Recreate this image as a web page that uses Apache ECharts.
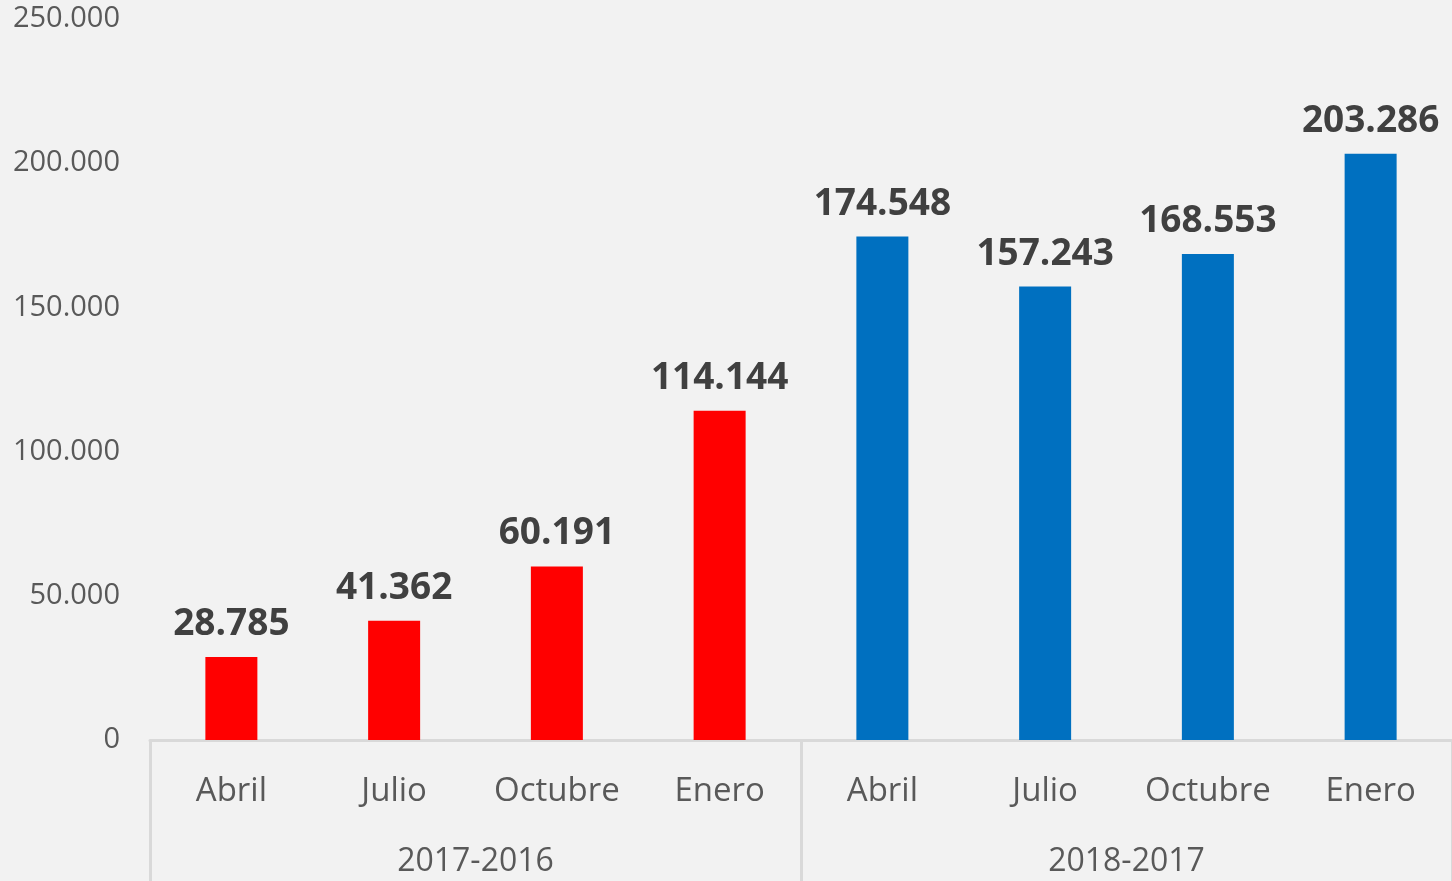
<!DOCTYPE html>
<html>
<head>
<meta charset="utf-8">
<script src="https://cdn.jsdelivr.net/npm/echarts@6/dist/echarts.min.js"></script>
<style>
html,body{margin:0;padding:0;background:#f2f2f2;}
#c{width:1452px;height:881px;}
</style>
</head>
<body>
<div id="c"></div>
<script>
const months = ['Abril','Julio','Octubre','Enero','Abril','Julio','Octubre','Enero'];
const groups = ['2017-2016','2018-2017'];
const values = [28785, 41362, 60191, 114144, 174548, 157243, 168553, 203286];
const groupOfBar = [0,0,0,0,1,1,1,1];
const groupColors = ['#ff0000','#0070c0'];
const yTicks = [0, 50000, 100000, 150000, 200000, 250000];

function fmt(v){ return String(v).replace(/\B(?=(\d{3})+(?!\d))/g,'.'); }

const chart = echarts.init(document.getElementById('c'));
chart.setOption({
  backgroundColor:'#f2f2f2',
  animation:false,
  grid:{left:150,right:0,top:19,bottom:141},
  xAxis:[{
    type:'category', data:months,
    axisLine:{show:true,lineStyle:{color:'#d9d9d9',width:3}},
    axisTick:{show:false},
    axisLabel:{color:'#595959',fontFamily:'Open Sans',fontSize:33,margin:35,interval:0}
  },{
    type:'category', data:groups, position:'bottom',
    axisLine:{show:false},
    axisTick:{show:true,length:141,inside:false,interval:0,lineStyle:{color:'#d9d9d9',width:3}},
    axisLabel:{color:'#595959',fontFamily:'Open Sans',fontSize:32,margin:106,interval:0}
  }],
  yAxis:{
    type:'value', min:yTicks[0], max:yTicks[yTicks.length-1], interval:50000,
    axisLine:{show:false}, axisTick:{show:false}, splitLine:{show:false},
    axisLabel:{color:'#595959',fontFamily:'Open Sans',fontSize:29,margin:30,padding:[5,0,0,0],formatter:fmt}
  },
  series:[{
    type:'bar', data:values, xAxisIndex:0, barWidth:52,
    itemStyle:{color:p=>groupColors[groupOfBar[p.dataIndex]]},
    label:{show:true,position:'top',distance:14,color:'#404040',fontFamily:'Open Sans',fontWeight:'bold',fontSize:37,formatter:p=>fmt(p.value)}
  }]
});
</script>
</body>
</html>
